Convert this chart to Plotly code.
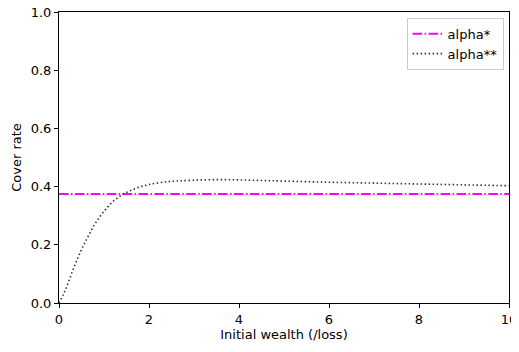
import plotly.graph_objects as go

wealth = [0, 0.1, 0.2, 0.3, 0.4, 0.5, 0.6, 0.7, 0.8, 0.9, 1.0, 1.1, 1.2, 1.3, 1.4, 1.5,
          1.6, 1.8, 2.0, 2.3, 2.6, 3.0, 3.5, 4.0, 4.5, 5, 6, 7, 8, 9, 10]
alpha2 = [0.0, 0.03, 0.068, 0.11, 0.148, 0.184, 0.215, 0.244, 0.272, 0.295, 0.315, 0.333,
          0.349, 0.361, 0.372, 0.380, 0.387, 0.399, 0.407, 0.415, 0.419, 0.422, 0.424,
          0.423, 0.421, 0.419, 0.415, 0.412, 0.409, 0.406, 0.403]
alpha1_value = 0.375
x_range = [0, 10]
y_range = [0, 1]
x_ticks = [0, 2, 4, 6, 8, 10]
y_ticks = [0.0, 0.2, 0.4, 0.6, 0.8, 1.0]
y_tick_labels = ["0.0", "0.2", "0.4", "0.6", "0.8", "1.0"]

fig = go.Figure()
fig.add_trace(go.Scatter(
    x=[x_range[0], x_range[1]], y=[alpha1_value, alpha1_value], mode="lines",
    name="alpha*", line=dict(color="#ff00ff", width=2, dash="9.6px,2.4px,1.5px,2.4px")))
fig.add_trace(go.Scatter(
    x=wealth, y=alpha2, mode="lines", name="alpha**",
    line=dict(color="#333333", width=1.6, dash="1.5px,2.5px", shape="spline")))

font = dict(family="DejaVu Sans", size=13, color="black")
axis_common = dict(showgrid=False, zeroline=False, showline=True, linecolor="black",
                   linewidth=1, mirror=True, ticks="outside", ticklen=4, tickwidth=1,
                   tickcolor="black", tickfont=font, automargin=False,
                   ticklabeloverflow="allow")
fig.update_xaxes(range=x_range, tickvals=x_ticks, title=dict(text="Initial wealth (/loss)", font=font, standoff=4),
                 **axis_common)
fig.update_yaxes(range=y_range, tickvals=y_ticks, ticktext=y_tick_labels,
                 title=dict(text="Cover rate", font=font, standoff=6), **axis_common)
fig.update_layout(
    width=511, height=336, margin=dict(l=51, r=10, t=4, b=41),
    plot_bgcolor="white", paper_bgcolor="white", font=font,
    legend=dict(x=0.988, y=0.98, xanchor="right", yanchor="top", bgcolor="white",
                bordercolor="#cccccc", borderwidth=1, font=font, tracegroupgap=0),
)
fig.write_html("out.html")
